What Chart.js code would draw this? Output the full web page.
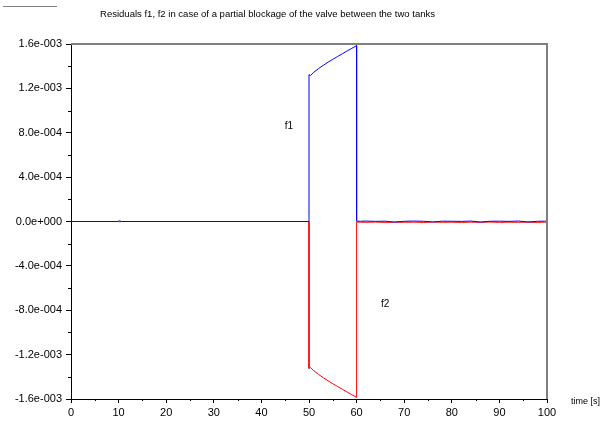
<!DOCTYPE html>
<html>
<head>
<meta charset="utf-8">
<script src="https://cdn.jsdelivr.net/npm/chart.js@4.4.1/dist/chart.umd.min.js"></script>
<style>
  html, body { margin: 0; padding: 0; background: #ffffff; }
  #wrap { width: 604px; height: 428px; }
</style>
</head>
<body>
<div id="wrap"><canvas id="c" width="604" height="428"></canvas></div>
<script>
const chartTitle = "Residuals f1, f2 in case of a partial blockage of the valve between the two tanks";
const xAxisLabel = "time [s]";

const time = [0, 9.8, 10.2, 10.6, 50, 50, 50.3, 51, 52, 53, 54, 55, 56, 57, 58, 59, 60, 60, 60.8, 62, 64, 66, 68, 70, 72, 74, 76, 78, 80, 82, 84, 86, 88, 90, 92, 94, 96, 98, 99.5, 100];
const f1 = [0, 0, 7e-6, 0, 0, 1.325e-3, 1.315e-3, 1.345e-3, 1.378e-3, 1.408e-3, 1.436e-3, 1.462e-3, 1.487e-3, 1.512e-3, 1.537e-3, 1.561e-3, 1.585e-3, 3e-6,
  2e-6, 4e-6, 1e-6, 3e-6, -5e-6, 2e-6, 4e-6, 2e-6, -4e-6, 3e-6, 2e-6, 1e-6, 4e-6, -5e-6, 2e-6, 3e-6, 1e-6, 4e-6, -4e-6, 2e-6, 3e-6, 3e-6];
const f2 = [0, 0, -3e-6, 0, 0, -1.325e-3, -1.315e-3, -1.345e-3, -1.378e-3, -1.408e-3, -1.436e-3, -1.462e-3, -1.487e-3, -1.512e-3, -1.537e-3, -1.561e-3, -1.585e-3, -5e-6,
  -6e-6, -7e-6, -5e-6, -8e-6, -6e-6, -7e-6, -6e-6, -8e-6, -5e-6, -7e-6, -6e-6, -8e-6, -6e-6, -7e-6, -5e-6, -8e-6, -6e-6, -7e-6, -6e-6, -8e-6, -6e-6, -7e-6];

const xTicks = [0, 10, 20, 30, 40, 50, 60, 70, 80, 90, 100];
const xMinorTicks = [5, 15, 25, 35, 45, 55, 65, 75, 85, 95];
const yTicks = [-1.6e-3, -1.2e-3, -8e-4, -4e-4, 0, 4e-4, 8e-4, 1.2e-3, 1.6e-3];
const yMinorTicks = [-1.4e-3, -1e-3, -6e-4, -2e-4, 2e-4, 6e-4, 1e-3, 1.4e-3];

const curveLabels = ["f1", "f2"];
const curveLabelX = [45.8, 66.0];
const curveLabelY = [8.56e-4, -7.48e-4];

function fmtY(v) {
  if (Math.abs(v) < 1e-12) return "0.0e+000";
  const s = v.toExponential(1);
  const parts = s.split("e");
  let e = parseInt(parts[1], 10);
  const sign = e < 0 ? "-" : "+";
  e = Math.abs(e);
  return parts[0] + "e" + sign + String(e).padStart(3, "0");
}

const decorPlugin = {
  id: "decor",
  afterDraw(chart) {
    const ctx = chart.ctx;
    const ca = chart.chartArea;
    const xs = chart.scales.x, ys = chart.scales.y;
    ctx.save();
    ctx.strokeStyle = "#808080";
    ctx.lineWidth = 2;
    ctx.beginPath();
    ctx.moveTo(ca.left, ca.top);
    ctx.lineTo(ca.right, ca.top);
    ctx.lineTo(ca.right, ca.bottom);
    ctx.stroke();
    ctx.strokeStyle = "#000000";
    ctx.lineWidth = 1;
    ctx.beginPath();
    yMinorTicks.forEach(v => {
      const py = Math.round(ys.getPixelForValue(v)) + 0.5;
      ctx.moveTo(ca.left - 3, py);
      ctx.lineTo(ca.left, py);
    });
    xMinorTicks.forEach(v => {
      const px = Math.round(xs.getPixelForValue(v)) + 0.5;
      ctx.moveTo(px, ca.bottom);
      ctx.lineTo(px, ca.bottom + 2);
    });
    ctx.stroke();
    ctx.fillStyle = "#000000";
    ctx.font = "9.5px 'Liberation Sans', Arial, sans-serif";
    ctx.textBaseline = "middle";
    ctx.textAlign = "left";
    const tw = ctx.measureText(chartTitle).width;
    const target = 335;
    ctx.save();
    ctx.translate(100, 14);
    ctx.scale(target / tw, 1);
    ctx.fillText(chartTitle, 0, 0);
    ctx.restore();
    ctx.font = "9px 'Liberation Sans', Arial, sans-serif";
    ctx.textAlign = "left";
    ctx.fillText(xAxisLabel, 571, 402);
    ctx.font = "10px 'Liberation Sans', Arial, sans-serif";
    ctx.textAlign = "center";
    curveLabels.forEach((t, i) => {
      ctx.fillText(t, xs.getPixelForValue(curveLabelX[i]), ys.getPixelForValue(curveLabelY[i]));
    });
    ctx.strokeStyle = "#808080";
    ctx.lineWidth = 1;
    ctx.beginPath();
    ctx.moveTo(3, 6.5);
    ctx.lineTo(57, 6.5);
    ctx.stroke();
    ctx.restore();
  }
};

new Chart(document.getElementById("c"), {
  type: "line",
  data: {
    datasets: [
      { label: "f1", data: time.map((t, i) => ({ x: t, y: f1[i] })), borderColor: "#0000ff", borderWidth: 1, pointRadius: 0, tension: 0, fill: false, order: 0 },
      { label: "f2", data: time.map((t, i) => ({ x: t, y: f2[i] })), borderColor: "#ff0000", borderWidth: 1, pointRadius: 0, tension: 0, fill: false, order: 1 }
    ]
  },
  options: {
    responsive: false,
    animation: false,
    devicePixelRatio: 1,
    layout: { padding: { top: 44, right: 57, left: 0, bottom: 0 } },
    plugins: { legend: { display: false }, title: { display: false }, tooltip: { enabled: false } },
    scales: {
      x: {
        type: "linear", min: 0, max: 100,
        afterBuildTicks(scale) { scale.ticks = xTicks.map(v => ({ value: v })); },
        afterFit(scale) { scale.height = 29; },
        grid: { display: true, drawOnChartArea: false, drawTicks: true, tickLength: 4, tickColor: "#000000" },
        border: { display: true, color: "#000000", width: 1 },
        ticks: { color: "#000000", font: { family: "'Liberation Sans', Arial, sans-serif", size: 11 }, padding: 3, maxRotation: 0, autoSkip: false, callback: v => String(v) }
      },
      y: {
        type: "linear", min: -1.6e-3, max: 1.6e-3,
        afterBuildTicks(scale) { scale.ticks = yTicks.map(v => ({ value: v })); },
        afterFit(scale) { scale.width = 71; },
        grid: { display: true, drawOnChartArea: false, drawTicks: true, tickLength: 5, tickColor: "#000000" },
        border: { display: true, color: "#000000", width: 1 },
        ticks: { color: "#000000", font: { family: "'Liberation Sans', Arial, sans-serif", size: 11 }, padding: 4, autoSkip: false, callback: v => fmtY(v) }
      }
    }
  },
  plugins: [decorPlugin]
});
</script>
</body>
</html>
